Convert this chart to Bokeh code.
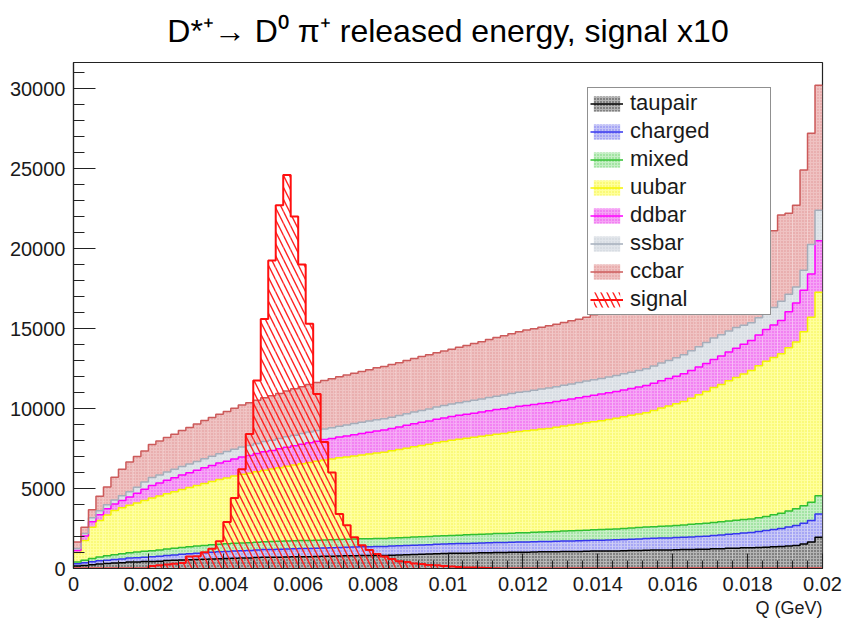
import numpy as np
from bokeh.plotting import figure
from bokeh.models import (FixedTicker, CustomJSTickFormatter, Legend,
                          LegendItem, Range1d, Title)
from bokeh.embed import file_html
from bokeh.resources import INLINE

# ---------------- data ----------------
Q_MIN, Q_MAX, N_BINS = 0.0, 0.02, 100

series_names = ["taupair", "charged", "mixed", "uubar", "ddbar", "ssbar", "ccbar"]

taupair = [150, 190, 230, 280, 310, 340, 360, 400, 410, 430,
           440, 460, 500, 510, 530, 540, 560, 580, 600, 610,
           620, 640, 650, 660, 680, 700, 700, 710, 720, 730,
           740, 740, 750, 760, 770, 780, 790, 800, 810, 810,
           820, 810, 830, 850, 860, 880, 890, 900, 920, 930,
           950, 950, 960, 970, 980, 990, 1000, 1000, 1010, 1020,
           1020, 1030, 1040, 1040, 1050, 1060, 1060, 1070, 1080, 1090,
           1090, 1100, 1100, 1110, 1120, 1130, 1140, 1150, 1160, 1160,
           1170, 1180, 1190, 1200, 1210, 1230, 1240, 1260, 1270, 1290,
           1300, 1320, 1330, 1360, 1380, 1410, 1440, 1530, 1650, 1950]

charged = [150, 170, 190, 200, 210, 220, 235, 250, 265, 280,
           290, 305, 320, 340, 360, 380, 395, 405, 420, 430,
           440, 450, 455, 465, 470, 480, 485, 490, 500, 505,
           510, 515, 520, 525, 530, 535, 540, 545, 550, 555,
           560, 565, 570, 570, 575, 580, 585, 590, 595, 598,
           600, 605, 610, 612, 615, 620, 625, 628, 632, 636,
           640, 644, 648, 652, 656, 660, 664, 668, 672, 676,
           680, 688, 696, 704, 712, 720, 728, 736, 744, 752,
           760, 772, 784, 798, 812, 830, 850, 875, 900, 925,
           950, 990, 1040, 1080, 1120, 1180, 1250, 1300, 1350, 1460]

mixed = [100, 150, 200, 240, 270, 300, 320, 340, 355, 370,
         380, 392, 404, 416, 428, 440, 450, 460, 470, 476,
         480, 484, 488, 490, 492, 494, 496, 498, 500, 500,
         500, 500, 502, 500, 498, 500, 502, 500, 500, 500,
         500, 502, 504, 506, 508, 510, 512, 514, 516, 518,
         520, 526, 532, 538, 544, 550, 556, 562, 568, 574,
         580, 588, 596, 604, 612, 620, 628, 636, 644, 652,
         660, 670, 680, 690, 700, 710, 720, 730, 740, 750,
         760, 772, 784, 796, 808, 820, 826, 832, 838, 844,
         850, 865, 880, 915, 950, 1000, 1040, 1090, 1140, 1140]

uubar = [600, 1240, 1960, 2280, 2560, 2765, 2885, 2960, 3070, 3170,
         3290, 3370, 3450, 3530, 3620, 3700, 3780, 3870, 3950, 4040,
         4120, 4200, 4290, 4340, 4410, 4470, 4540, 4600, 4670, 4730,
         4800, 4870, 4930, 5000, 5050, 5100, 5140, 5190, 5240, 5290,
         5340, 5390, 5450, 5510, 5580, 5640, 5700, 5760, 5830, 5890,
         5950, 6000, 6040, 6080, 6120, 6170, 6210, 6250, 6300, 6340,
         6370, 6400, 6430, 6460, 6510, 6560, 6610, 6660, 6710, 6760,
         6810, 6860, 6920, 6980, 7040, 7090, 7150, 7260, 7380, 7500,
         7610, 7720, 7890, 8060, 8240, 8430, 8590, 8760, 8930, 9100,
         9275, 9490, 9700, 9830, 9970, 10200, 10420, 10870, 11560, 12710]

ddbar = [125, 280, 340, 360, 380, 400, 450, 520, 600, 700,
         780, 810, 840, 870, 900, 920, 950, 980, 1000, 1030,
         1050, 1070, 1090, 1110, 1130, 1150, 1160, 1180, 1190, 1210,
         1220, 1240, 1250, 1270, 1280, 1300, 1310, 1330, 1340, 1360,
         1380, 1390, 1400, 1410, 1430, 1440, 1450, 1460, 1470, 1475,
         1480, 1490, 1500, 1510, 1520, 1530, 1540, 1550, 1560, 1570,
         1580, 1590, 1600, 1610, 1615, 1620, 1630, 1640, 1650, 1655,
         1660, 1665, 1670, 1675, 1680, 1690, 1695, 1700, 1705, 1710,
         1720, 1725, 1730, 1735, 1740, 1750, 1770, 1800, 1830, 1850,
         1880, 1930, 1980, 2030, 2080, 2250, 2450, 2600, 2700, 3230]

ssbar = [125, 150, 250, 250, 250, 250, 300, 330, 380, 450,
         500, 510, 520, 530, 540, 550, 560, 570, 580, 590,
         600, 610, 620, 630, 635, 640, 640, 645, 650, 655,
         660, 665, 670, 670, 675, 680, 685, 690, 695, 700,
         700, 700, 705, 710, 715, 730, 740, 750, 760, 770,
         780, 790, 800, 810, 820, 830, 840, 850, 860, 870,
         880, 890, 900, 910, 920, 930, 940, 950, 960, 970,
         980, 990, 1000, 1010, 1020, 1030, 1050, 1080, 1110, 1130,
         1150, 1190, 1230, 1270, 1310, 1350, 1340, 1320, 1300, 1200,
         1100, 1080, 1050, 1100, 1200, 1100, 1000, 1250, 1850, 1900]

ccbar = [400, 400, 500, 900, 1120, 1425, 1650, 1850, 1920, 1950,
         2070, 2120, 2160, 2200, 2250, 2290, 2340, 2380, 2420, 2470,
         2510, 2560, 2620, 2660, 2700, 2740, 2780, 2820, 2860, 2900,
         2930, 2970, 3000, 3030, 3060, 3090, 3120, 3150, 3180, 3210,
         3240, 3270, 3290, 3310, 3330, 3350, 3370, 3380, 3400, 3410,
         3420, 3460, 3500, 3540, 3580, 3620, 3660, 3700, 3740, 3780,
         3830, 3850, 3870, 3890, 3910, 3930, 3950, 3960, 3980, 4050,
         4050, 4060, 4070, 4060, 4050, 4040, 4020, 4000, 3980, 3960,
         3940, 3920, 3900, 3880, 3870, 3860, 3880, 3910, 3950, 4000,
         4100, 4250, 4450, 4800, 5400, 5060, 5100, 6260, 6950, 7810]

# signal (already scaled x10)
signal = [0, 0, 0, 0, 0, 0, 0, 0, 0, 0,
          150, 200, 250, 300, 350, 750, 760, 1020, 1230, 1700,
          2900, 4400, 6200, 8400, 11750, 15600, 19250, 22700, 24600, 22000,
          19000, 15300, 10900, 7900, 6000, 3400, 2700, 1950, 1450, 1150,
          900, 750, 600, 450, 400, 320, 280, 220, 200, 160,
          120, 90, 70, 60, 40, 30, 20, 0, 0, 0,
          0, 0, 0, 0, 0, 0, 0, 0, 0, 0,
          0, 0, 0, 0, 0, 0, 0, 0, 0, 0,
          0, 0, 0, 0, 0, 0, 0, 0, 0, 0,
          0, 0, 0, 0, 0, 0, 0, 0, 0, 0]

x_ticks = [0, 0.002, 0.004, 0.006, 0.008, 0.01, 0.012, 0.014, 0.016, 0.018, 0.02]
y_ticks = [0, 5000, 10000, 15000, 20000, 25000, 30000]

TITLE = "D*\u207a\u2192 D\u2070 \u03c0\u207a released energy, signal x10"
X_LABEL = "Q (GeV)"

# ---------------- style ----------------
FONT = "Liberation Sans"
styles = {
    "taupair": dict(fill="#b4b4b4", hatch="#000000", line="#000000", ha=0.7),
    "charged": dict(fill="#c6c6f6", hatch="#3030ee", line="#3535ee", ha=0.55),
    "mixed":   dict(fill="#c6efc6", hatch="#20b820", line="#30c030", ha=0.55),
    "uubar":   dict(fill="#ffff9c", hatch="#e8e800", line="#f4f400", ha=0.55),
    "ddbar":   dict(fill="#f5a5f5", hatch="#e600e6", line="#ff00ff", ha=0.55),
    "ssbar":   dict(fill="#e1e5ea", hatch="#b5bdc8", line="#a5aebb", ha=0.55),
    "ccbar":   dict(fill="#efc2c2", hatch="#d06a6a", line="#cc5a5a", ha=0.55),
}

edges = np.linspace(Q_MIN, Q_MAX, N_BINS + 1)
left, right = edges[:-1], edges[1:]
x_step = np.repeat(edges, 2)[1:-1]

p = figure(width=843, height=631, title=None,
           x_range=Range1d(Q_MIN, Q_MAX), y_range=Range1d(0, 31625),
           output_backend="svg", toolbar_location=None,
           min_border_left=73, min_border_right=21,
           min_border_top=62, min_border_bottom=63)
p.xgrid.visible = False
p.ygrid.visible = False
p.background_fill_color = "white"
p.border_fill_color = "white"
p.outline_line_color = "#222222"
p.outline_line_width = 1.2

data = {"taupair": taupair, "charged": charged, "mixed": mixed, "uubar": uubar,
        "ddbar": ddbar, "ssbar": ssbar, "ccbar": ccbar}

bottom = np.zeros(N_BINS)
quad_r, line_r, tops = {}, {}, {}
for name in series_names:
    vals = np.array(data[name], dtype=float)
    top = bottom + vals
    st = styles[name]
    quad_r[name] = p.quad(left=left, right=right, bottom=bottom, top=top,
                          fill_color=st["fill"], line_color=None,
                          hatch_pattern="dot", hatch_color=st["hatch"],
                          hatch_scale=3, hatch_weight=1, hatch_alpha=st["ha"])
    tops[name] = top
    bottom = top

for name in series_names:
    st = styles[name]
    line_r[name] = p.line(x_step, np.repeat(tops[name], 2),
                          line_color=st["line"], line_width=1.5)

sig = np.array(signal, dtype=float)
sig_q = p.quad(left=left, right=right, bottom=0, top=sig,
               fill_alpha=0, line_color=None,
               hatch_pattern="\\", hatch_color="#ff2020",
               hatch_scale=12, hatch_weight=1.4)
sig_l = p.line(x_step, np.repeat(sig, 2), line_color="#ff1010", line_width=2)

# ---------------- axes ----------------
for ax in (p.xaxis[0], p.yaxis[0]):
    ax.axis_line_color = "#222222"
    ax.axis_line_width = 1.2
    ax.major_tick_line_color = "#222222"
    ax.minor_tick_line_color = "#222222"
    ax.major_tick_out = 0
    ax.minor_tick_out = 0
    ax.major_label_text_font = FONT
    ax.major_label_text_font_size = "20px"
    ax.major_label_text_color = "#1a1a1a"

p.xaxis.ticker = FixedTicker(ticks=x_ticks,
                             minor_ticks=[i * 0.0004 for i in range(51)])
p.xaxis.major_tick_in = 15
p.xaxis.minor_tick_in = 8
p.xaxis.major_label_standoff = 8
p.xaxis.formatter = CustomJSTickFormatter(
    code="return tick == 0 ? '0' : String(parseFloat(tick.toFixed(4)));")

p.yaxis.ticker = FixedTicker(ticks=y_ticks,
                             minor_ticks=[i * 1000 for i in range(32)])
p.yaxis.major_tick_in = 22
p.yaxis.minor_tick_in = 11
p.yaxis.major_label_standoff = 8

# ---------------- titles ----------------
p.add_layout(Title(text=TITLE, align="center", vertical_align="top",
                   text_font=FONT, text_font_size="32px",
                   text_font_style="normal", text_color="black",
                   standoff=23), "above")
p.add_layout(Title(text=X_LABEL, align="right", text_font=FONT,
                   text_font_size="18px", text_font_style="normal",
                   text_color="#1a1a1a", standoff=4), "below")

# ---------------- legend ----------------
items = [LegendItem(label=n, renderers=[quad_r[n], line_r[n]]) for n in series_names]
items.append(LegendItem(label="signal", renderers=[sig_q, sig_l]))
legend = Legend(items=items, location=(514, 253),
                border_line_color="#222222", border_line_width=1.2,
                background_fill_color="white", background_fill_alpha=1.0,
                padding=2, spacing=2, margin=0,
                glyph_width=33, glyph_height=19, label_standoff=7,
                label_width=138, label_height=24,
                label_text_font=FONT, label_text_font_size="22px",
                label_text_color="#1a1a1a")
p.add_layout(legend)

open("out.html", "w").write(file_html(p, INLINE))
